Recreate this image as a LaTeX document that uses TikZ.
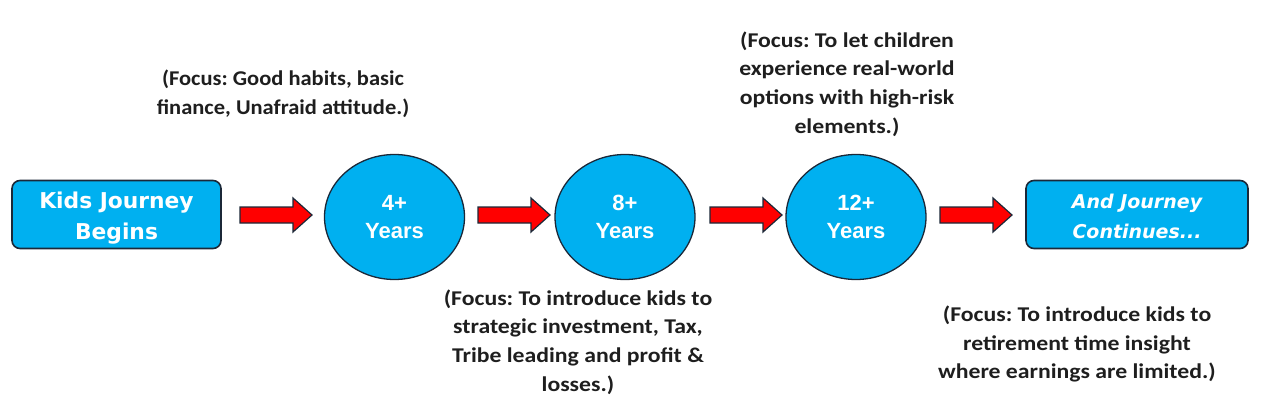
\documentclass[tikz,border=0pt]{standalone}
\usepackage{fontspec}
\setmainfont{Carlito}
\newfontfamily\focusfont[FakeStretch=1.13]{Carlito}
\newfontfamily\focusfontw[FakeStretch=1.07]{Carlito}
\newfontfamily\boxfont{DejaVu Sans}
\newfontfamily\circfont{Liberation Sans}
\usetikzlibrary{shapes.geometric}
\definecolor{skyfill}{HTML}{00B0F0}
\definecolor{edge}{HTML}{1B2838}
\definecolor{txt}{HTML}{1E1E1E}
\tikzset{
  x=1pt,y=-1pt,
  startbox/.style={draw=edge,line width=1.6pt,fill=skyfill,rounded corners=8pt,minimum width=209pt,minimum height=68pt,inner sep=0pt},
  boxtext/.style={align=center,text=white,inner sep=0pt,font=\boxfont\bfseries\fontsize{21.8}{31}\selectfont},
  agebubble/.style={ellipse,draw=edge,line width=1.3pt,fill=skyfill,minimum width=140pt,minimum height=125pt,inner sep=0pt,align=center,text=white,font=\circfont\bfseries\fontsize{22}{28}\selectfont},
  focus/.style={align=center,text=txt,font=\focusfont\bfseries\fontsize{21}{28.8}\selectfont,inner sep=0pt},
  blockarrow/.style={fill=red,draw=edge,line width=1.2pt,line join=miter}
}
\newcommand{\redarrow}[1]{\draw[blockarrow] (#1,207) -- (#1+53,207) -- (#1+53,198) -- (#1+72,215) -- (#1+53,232) -- (#1+53,223) -- (#1,223) -- cycle;}
\frenchspacing
\begin{document}
\begin{tikzpicture}
\useasboundingbox (0,0) rectangle (1263,417);
\node[startbox,label={[boxtext,yshift=-3.5pt]center:Kids Journey\\Begins}] (start) at (116.5,214.5) {};
\node[agebubble] (y4) at (394.5,217) {4+\\Years};
\node[agebubble] (y8) at (625,217) {8+\\Years};
\node[agebubble] (y12) at (856,217) {12+\\Years};
\node[startbox,minimum width=222pt,label={[boxtext,yshift=-2pt,font=\boxfont\bfseries\itshape\fontsize{19}{29.5}\selectfont]center:And Journey\\Continues...}] (cont) at (1137,214.5) {};
\redarrow{240}
\redarrow{478}
\redarrow{710}
\redarrow{940}
\node[focus,font=\focusfontw\bfseries\fontsize{21}{28.5}\selectfont] (f4) at (283,94) {(Focus: Good habits, basic\\finance, Unafraid attitude.)};
\node[focus] (f8) at (578,342) {(Focus: To introduce kids to\\strategic investment, Tax,\\Tribe leading and profit \&\\losses.)};
\node[focus] (f12) at (847,84) {(Focus: To let children\\experience real-world\\options with high-risk\\elements.)};
\node[focus] (fc) at (1077,344) {(Focus: To introduce kids to\\retirement time insight\\where earnings are limited.)};
\end{tikzpicture}
\end{document}
